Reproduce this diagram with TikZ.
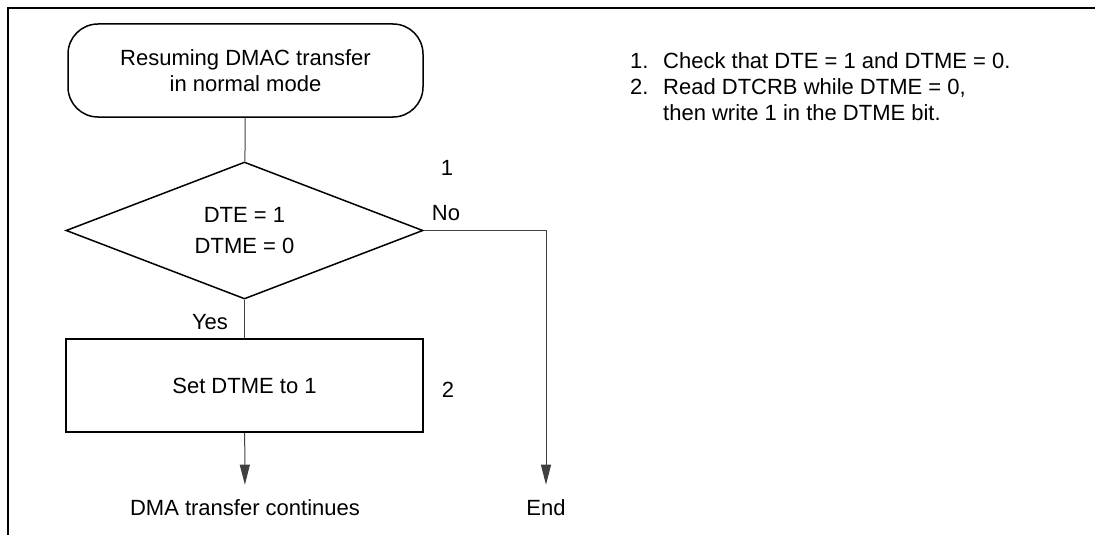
\documentclass[tikz,border=0pt]{standalone}
\usepackage{fontspec}
\setmainfont{Liberation Sans}
\usetikzlibrary{arrows.meta,positioning,shapes.geometric}

\begin{document}
\begin{tikzpicture}[
  x=1pt, y=-1pt,
  font=\fontsize{22}{26}\selectfont,
  >={Triangle[length=20pt,width=10pt]},
  box/.style={draw=black, line width=1.5pt, minimum width=357pt,
              minimum height=93pt, align=center, inner sep=0pt},
  term/.style={box, minimum width=355pt, rounded corners=30pt},
  decide/.style={diamond, draw=black, line width=1.5pt, aspect=2.6,
                 minimum width=357pt, minimum height=137pt, inner sep=0pt,
                 align=center, font=\fontsize{22}{31}\selectfont},
  lab/.style={inner sep=0pt},
  note/.style={inner sep=0pt, anchor=base west},
  flow/.style={line width=1pt, black!75},
]
\useasboundingbox (0,0) rectangle (1095,535);

% ── frame ───────────────────────────────────────────────────────────────────
\draw[line width=2pt] (8,536) -- (8,8) -- (1096,8);

% ── flow chart ──────────────────────────────────────────────────────────────
\node[term]   (start)  at (245.5,70.5) {Resuming DMAC transfer\\in normal mode};
\node[decide] (check)  at (244.5,230.5) {DTE = 1\\DTME = 0};
\node[box]    (setbit) at (244.5,385.5) {Set DTME to 1};
\node[lab]    (cont)   at (245,508) {DMA transfer continues};
\node[lab]    (finish) at (546,508) {End};

\draw[flow] (start) -- (check);
\draw[flow] (check) -- (setbit);
\draw[flow, ->, shorten >=15pt] (setbit) -- (cont);
\draw[flow, ->, shorten >=15pt] (check.east) -| (finish);

% branch labels and step numbers
\node[lab] (yes)   at (210,322) {Yes};
\node[lab] (no)    at (446,213) {No};
\node[lab] (step1) at (447,168) {1};
\node[lab] (step2) at (448,390) {2};

% ── notes ───────────────────────────────────────────────────────────────────
\node[note] (note1)  at (630,69)
  {\makebox[33pt][l]{1.}Check that DTE = 1 and DTME = 0.};
\node[note] (note2)  at (630,94.5)
  {\makebox[33pt][l]{2.}Read DTCRB while DTME = 0,};
\node[note] (note2b) at (663,120) {then write 1 in the DTME bit.};
\end{tikzpicture}
\end{document}
